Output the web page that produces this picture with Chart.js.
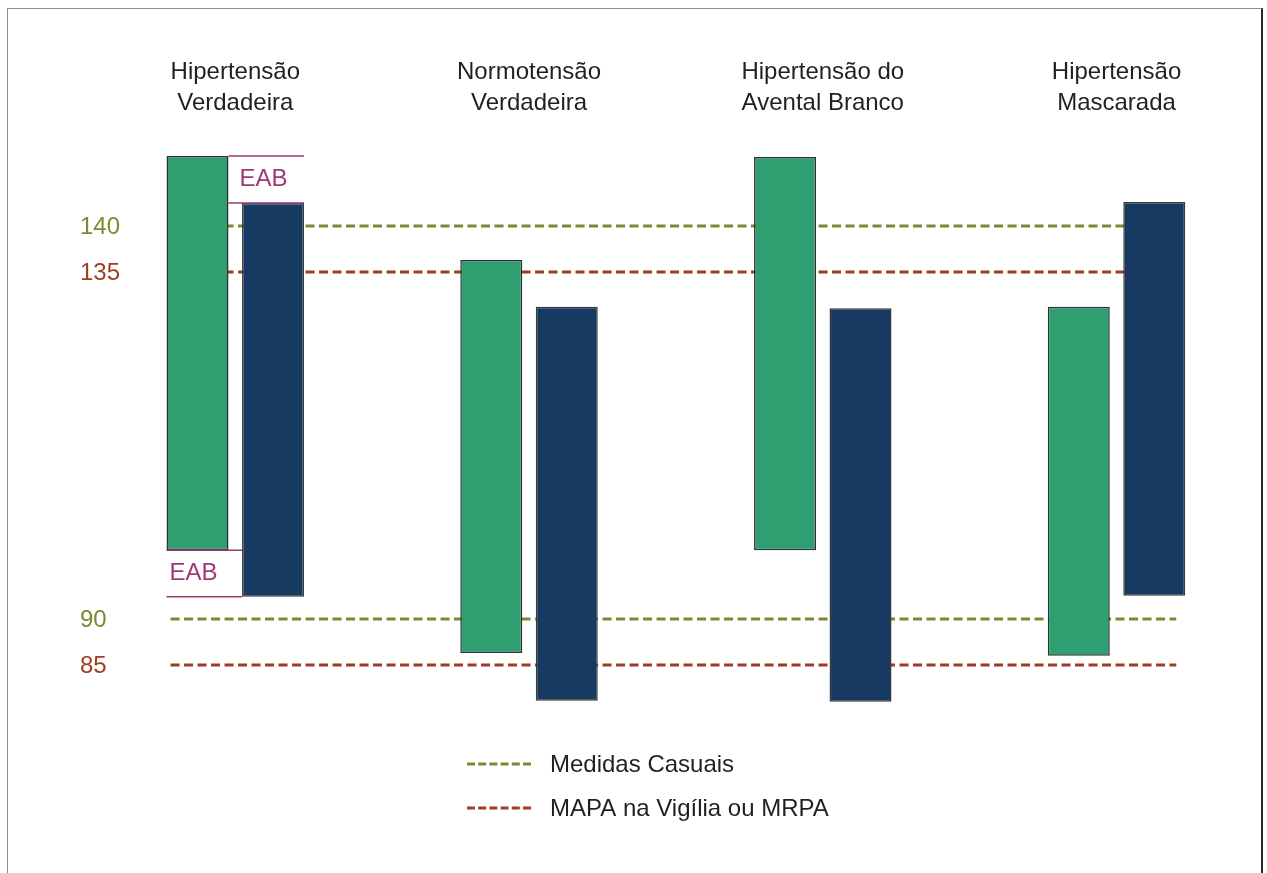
<!DOCTYPE html>
<html lang="pt">
<head>
<meta charset="utf-8">
<title>Hipertensão: medidas casuais e MAPA/MRPA</title>
<script src="https://cdn.jsdelivr.net/npm/chart.js@4.4.1/dist/chart.umd.min.js"></script>
<style>
    html, body {
        margin: 0;
        padding: 0;
        background: #fff;
        width: 1267px;
        height: 873px;
        overflow: hidden;
    }
    #frame {
        position: absolute;
        left: 7px;
        top: 8px;
        width: 1256px;
        height: 900px;
        box-sizing: border-box;
        border: 1px solid #8c8c8c;
        border-right: 2px solid #2a2a2a;
    }
    #chart {
        position: absolute;
        left: 0;
        top: 0;
    }
</style>
</head>
<body>
<div id="frame"></div>
<canvas id="chart" width="1267" height="873"></canvas>
<script>
// Categories (two-line titles above each group)
const categories = [
    ['Hipertensão', 'Verdadeira'],
    ['Normotensão', 'Verdadeira'],
    ['Hipertensão do', 'Avental Branco'],
    ['Hipertensão', 'Mascarada']
];

// Casual (office) measurements - green bars, [low, high]
const casualLow = [98.9, 86.3, 98.9, 86.0];
const casualHigh = [147.6, 136.3, 147.5, 130.5];

// MAPA / MRPA - blue bars, [low, high]
const mapaLow = [92.9, 81.1, 81.0, 93.0];
const mapaHigh = [142.5, 130.5, 130.3, 142.6];

// Threshold lines
const casualLimits = [140, 90];
const mapaLimits = [135, 85];
const yTicks = [140, 135, 90, 85];

const legendLabels = ['Medidas Casuais', 'MAPA na Vigília ou MRPA'];
const eabLabel = 'EAB';

const GREEN = '#2f9e70';
const BLUE = '#173a63';
const OLIVE = '#7e8832';
const RUST = '#a03d20';
const MAGENTA = '#9c3a74';
const TEXT = '#231f20';
const FONT = '"Liberation Sans", Arial, sans-serif';

// The figure is schematic: the span between 90 and 135 is drawn squeezed
const MID_SQUEEZE = 0.8382;

function warp(v) {
    if (v <= 90) return v;
    if (v <= 135) return 90 + (v - 90) * MID_SQUEEZE;
    return 90 + 45 * MID_SQUEEZE + (v - 135);
}

function unwarp(w) {
    const top = 90 + 45 * MID_SQUEEZE;
    if (w <= 90) return w;
    if (w <= top) return 90 + (w - 90) / MID_SQUEEZE;
    return 135 + (w - top);
}

const BaseLinear = Chart.LinearScale || Chart.registry.getScale('linear');

class SqueezedScale extends BaseLinear {
    configure() {
        super.configure();
        this._startValue = warp(this.min);
        this._valueRange = warp(this.max) - warp(this.min);
    }
    getPixelForValue(value) {
        return value === null ? NaN : super.getPixelForValue(warp(value));
    }
    getValueForPixel(pixel) {
        return unwarp(super.getValueForPixel(pixel));
    }
}
SqueezedScale.id = 'squeezed';
SqueezedScale.defaults = BaseLinear.defaults;
Chart.register(SqueezedScale);

// Dashed reference lines, drawn under the bars
const thresholdPlugin = {
    id: 'thresholds',
    beforeDatasetsDraw(chart) {
        const ctx = chart.ctx;
        const y = chart.scales.y;
        const first = chart.getDatasetMeta(0).data[0];
        const lastMeta = chart.getDatasetMeta(1).data;
        const last = lastMeta[lastMeta.length - 1];
        const x0 = first.x - first.width / 2 + 4;
        const x1 = last.x + last.width / 2 - 9;

        const drawSet = values => {
            values.forEach(v => {
                const py = y.getPixelForValue(v);
                ctx.beginPath();
                ctx.moveTo(x0, py);
                ctx.lineTo(x1, py);
                ctx.stroke();
            });
        };

        ctx.save();
        ctx.lineWidth = 3;
        ctx.setLineDash([9, 4.5]);
        ctx.strokeStyle = OLIVE;
        drawSet(casualLimits);
        ctx.strokeStyle = RUST;
        drawSet(mapaLimits);
        ctx.restore();
    }
};

// "EAB" brackets on the first group
const eabPlugin = {
    id: 'eab',
    afterDatasetsDraw(chart) {
        const ctx = chart.ctx;
        const g = chart.getDatasetMeta(0).data[0];
        const b = chart.getDatasetMeta(1).data[0];
        const gLeft = g.x - g.width / 2;
        const gRight = g.x + g.width / 2;
        const bLeft = b.x - b.width / 2;
        const bRight = b.x + b.width / 2;

        ctx.save();
        ctx.strokeStyle = MAGENTA;
        ctx.lineWidth = 1.5;
        ctx.beginPath();
        // top: casual high vs MAPA high
        ctx.moveTo(gRight, g.y); ctx.lineTo(bRight, g.y);
        ctx.moveTo(gRight, b.y); ctx.lineTo(bRight, b.y);
        // bottom: casual low vs MAPA low
        ctx.moveTo(gLeft, g.base); ctx.lineTo(bLeft, g.base);
        ctx.moveTo(gLeft, b.base); ctx.lineTo(bLeft, b.base);
        ctx.stroke();

        ctx.fillStyle = MAGENTA;
        ctx.font = '24px ' + FONT;
        ctx.textBaseline = 'middle';
        ctx.textAlign = 'left';
        ctx.fillText(eabLabel, gRight + 11, (g.y + b.y) / 2);
        ctx.fillText(eabLabel, gLeft + 3, (g.base + b.base) / 2);
        ctx.restore();
    }
};

// Coloured value labels on the left and the legend below
const labelsPlugin = {
    id: 'labels',
    afterDraw(chart) {
        const ctx = chart.ctx;
        const y = chart.scales.y;
        ctx.save();
        ctx.font = '24px ' + FONT;
        ctx.textBaseline = 'middle';
        ctx.textAlign = 'left';
        yTicks.forEach(v => {
            ctx.fillStyle = casualLimits.includes(v) ? OLIVE : RUST;
            ctx.fillText(String(v), 80, y.getPixelForValue(v) + 1);
        });

        const colors = [OLIVE, RUST];
        legendLabels.forEach((label, i) => {
            const ly = 764 + i * 44;
            ctx.strokeStyle = colors[i];
            ctx.lineWidth = 3;
            ctx.setLineDash([8, 3.2]);
            ctx.beginPath();
            ctx.moveTo(467, ly);
            ctx.lineTo(531, ly);
            ctx.stroke();
            ctx.fillStyle = TEXT;
            ctx.fillText(label, 550, ly + 1);
        });
        ctx.restore();
    }
};

const ctx = document.getElementById('chart').getContext('2d');
new Chart(ctx, {
    type: 'bar',
    data: {
        labels: categories,
        datasets: [
            {
                label: 'Medidas Casuais',
                data: casualLow.map((lo, i) => [lo, casualHigh[i]]),
                backgroundColor: GREEN,
                borderColor: '#303030',
                borderWidth: 1.5,
                borderSkipped: false,
                categoryPercentage: 0.514,
                barPercentage: 0.821
            },
            {
                label: 'MAPA na Vigília ou MRPA',
                data: mapaLow.map((lo, i) => [lo, mapaHigh[i]]),
                backgroundColor: BLUE,
                borderColor: '#3a3a3a',
                borderWidth: 1.5,
                borderSkipped: false,
                categoryPercentage: 0.514,
                barPercentage: 0.821
            }
        ]
    },
    options: {
        responsive: false,
        animation: false,
        layout: {
            padding: { left: 88.4, right: 3.6, top: 46.4, bottom: 153 }
        },
        plugins: {
            legend: { display: false },
            tooltip: { enabled: false }
        },
        scales: {
            x: {
                position: 'top',
                grid: { display: false, drawTicks: false },
                border: { display: false },
                ticks: {
                    color: TEXT,
                    font: { family: FONT, size: 24, lineHeight: 1.3 },
                    padding: 10.6,
                    maxRotation: 0,
                    autoSkip: false
                }
            },
            y: {
                type: 'squeezed',
                min: 79.02,
                max: 150.44,
                display: false
            }
        }
    },
    plugins: [thresholdPlugin, eabPlugin, labelsPlugin]
});
</script>
</body>
</html>
